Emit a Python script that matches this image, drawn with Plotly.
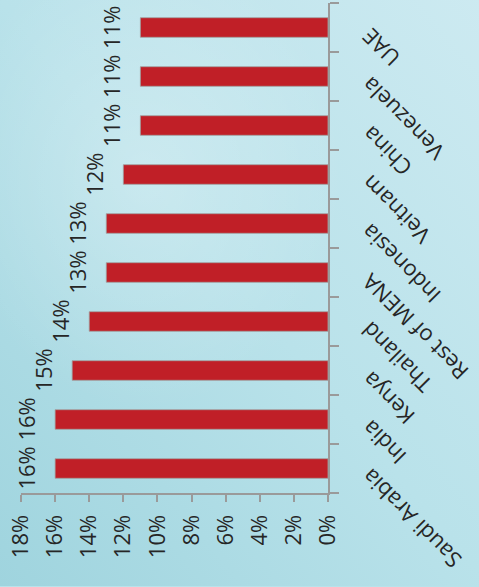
import plotly.graph_objects as go
import urllib.parse

categories = ["Saudi Arabia", "India", "Kenya", "Thailand", "Rest of MENA",
              "Indonesia", "Veitnam", "China", "Venezuela", "UAE"]
values = [0.16, 0.16, 0.15, 0.14, 0.13, 0.13, 0.12, 0.11, 0.11, 0.11]
value_ticks = [0, 0.02, 0.04, 0.06, 0.08, 0.10, 0.12, 0.14, 0.16, 0.18]
value_tick_labels = ["0%", "2%", "4%", "6%", "8%", "10%", "12%", "14%", "16%", "18%"]

FONT = "Open Sans"
TXT = "#262626"

svg = ("<svg xmlns='http://www.w3.org/2000/svg' width='479' height='587'>"
       "<defs><linearGradient id='g' x1='0' y1='1' x2='1' y2='0'>"
       "<stop offset='0' stop-color='#9fd4de'/>"
       "<stop offset='0.5' stop-color='#b9e2ea'/>"
       "<stop offset='1' stop-color='#cdeaf1'/>"
       "</linearGradient>"
       "<radialGradient id='r' cx='0.3' cy='0.3' r='0.4'>"
       "<stop offset='0' stop-color='#ffffff' stop-opacity='0.25'/>"
       "<stop offset='1' stop-color='#ffffff' stop-opacity='0'/>"
       "</radialGradient></defs>"
       "<rect width='479' height='587' fill='url(#g)'/>"
       "<rect width='479' height='587' fill='url(#r)'/>"
       "</svg>")
bg_src = "data:image/svg+xml;charset=utf-8," + urllib.parse.quote(svg)

fig = go.Figure()
fig.add_trace(go.Bar(
    x=values, y=categories, orientation="h",
    marker=dict(color="#C01F27", line=dict(color="rgba(160,160,160,0.8)", width=1)),
    width=0.4,
    hoverinfo="skip",
))

annotations = []
for c, v in zip(categories, values):
    annotations.append(dict(
        x=v, y=c, xref="x", yref="y",
        text=f"{round(v*100)}%", showarrow=False, textangle=-90,
        xanchor="right", yanchor="middle", xshift=-13,
        font=dict(family=FONT, size=22, color=TXT),
    ))
    annotations.append(dict(
        x=0, y=c, xref="x", yref="y",
        text=c, showarrow=False, textangle=-135,
        xanchor="left", yanchor="top", xshift=24, yshift=8,
        font=dict(family=FONT, size=22, color=TXT),
    ))

fig.update_layout(
    width=479, height=587,
    margin=dict(l=21, r=151, t=3, b=94),
    paper_bgcolor="#b9e2ea",
    plot_bgcolor="rgba(0,0,0,0)",
    showlegend=False,
    annotations=annotations,
    images=[dict(source=bg_src, xref="paper", yref="paper", x=-0.07, y=1.01,
                 sizex=1.6, sizey=1.2, sizing="stretch", layer="below",
                 xanchor="left", yanchor="top")],
    xaxis=dict(
        range=[0.18, 0], tickvals=value_ticks, ticktext=value_tick_labels,
        tickangle=-90, ticks="outside", ticklen=7, tickwidth=2, tickcolor="#9a9a9a",
        showline=True, linecolor="#9a9a9a", linewidth=2, showgrid=False,
        zeroline=False, ticklabelstandoff=4,
        tickfont=dict(family=FONT, size=22, color=TXT),
    ),
    yaxis=dict(
        categoryorder="array", categoryarray=categories, side="right",
        range=[-0.5, len(categories) - 0.5], autorange=False,
        showticklabels=False, ticks="outside", tickson="boundaries", ticklen=9,
        tickwidth=2, tickcolor="#9a9a9a", showline=True, linecolor="#9a9a9a",
        linewidth=2, showgrid=False, zeroline=False,
    ),
)

fig.write_html("out.html")
